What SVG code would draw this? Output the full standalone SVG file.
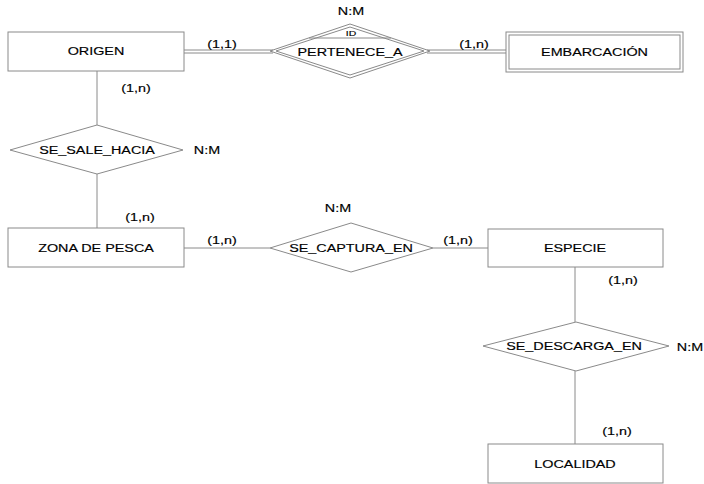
<svg xmlns="http://www.w3.org/2000/svg" width="704" height="484" viewBox="0 0 704 484">
<style>
.box{fill:#fff;stroke:#8a8a8a;stroke-width:1}
.ln{stroke:#8a8a8a;stroke-width:1;fill:none}
.t{font-family:"Liberation Sans",Arial,sans-serif;font-size:11.5px;fill:#000;stroke:#000;stroke-width:0.15;text-anchor:middle}
.s{font-size:8px}
</style>
<rect width="704" height="484" fill="#fff"/>
<g id="connectors">
<line class="ln" x1="184" y1="50" x2="273" y2="50"/>
<line class="ln" x1="184" y1="53" x2="273" y2="53"/>
<line class="ln" x1="427" y1="50" x2="506" y2="50"/>
<line class="ln" x1="427" y1="53" x2="506" y2="53"/>
<line class="ln" x1="97" y1="71" x2="97" y2="125"/>
<line class="ln" x1="97" y1="174" x2="97" y2="228"/>
<line class="ln" x1="184" y1="248" x2="270" y2="248"/>
<line class="ln" x1="433" y1="248" x2="488" y2="248"/>
<line class="ln" x1="575" y1="267" x2="575" y2="322"/>
<line class="ln" x1="575" y1="371" x2="575" y2="444"/>
<text class="t" transform="translate(222,48) scale(1.25,1)">(1,1)</text>
<text class="t" transform="translate(474,48) scale(1.25,1)">(1,n)</text>
<text class="t" transform="translate(136,92) scale(1.25,1)">(1,n)</text>
<text class="t" transform="translate(140,221) scale(1.25,1)">(1,n)</text>
<text class="t" transform="translate(222,244) scale(1.25,1)">(1,n)</text>
<text class="t" transform="translate(458,244) scale(1.25,1)">(1,n)</text>
<text class="t" transform="translate(623,284) scale(1.25,1)">(1,n)</text>
<text class="t" transform="translate(617,435) scale(1.25,1)">(1,n)</text>
</g>
<g id="origen">
<rect class="box" x="8" y="32" width="176" height="39"/>
<text class="t" transform="translate(96,55) scale(1.25,1)">ORIGEN</text>
</g>
<g id="pertenece_a">
<polygon class="ln" fill="#fff" points="270,51 350,24 430,51 350,78"/>
<polygon class="ln" points="276,51 350,27 424,51 350,75"/>
<line class="ln" x1="309" y1="38" x2="391" y2="38"/>
<text class="t s" transform="translate(351,36) scale(1.3,1)">ID</text>
<text class="t" transform="translate(350,56) scale(1.25,1)">PERTENECE_A</text>
<text class="t" transform="translate(351,15) scale(1.25,1)">N:M</text>
</g>
<g id="embarcacion">
<rect class="box" x="506" y="32" width="177" height="40"/>
<rect class="box" x="509" y="35" width="171" height="34"/>
<text class="t" transform="translate(594.5,56) scale(1.25,1)">EMBARCACIÓN</text>
</g>
<g id="se_sale_hacia">
<polygon class="box" points="10,150 97,125 183,150 97,174"/>
<text class="t" transform="translate(97,154) scale(1.25,1)">SE_SALE_HACIA</text>
<text class="t" transform="translate(207,154) scale(1.25,1)">N:M</text>
</g>
<g id="zona_de_pesca">
<rect class="box" x="8" y="228" width="176" height="39"/>
<text class="t" transform="translate(96,252) scale(1.25,1)">ZONA DE PESCA</text>
</g>
<g id="se_captura_en">
<polygon class="box" points="270,248 351,223 433,248 351,272"/>
<text class="t" transform="translate(351,252) scale(1.25,1)">SE_CAPTURA_EN</text>
<text class="t" transform="translate(338,212) scale(1.25,1)">N:M</text>
</g>
<g id="especie">
<rect class="box" x="488" y="229" width="175" height="38"/>
<text class="t" transform="translate(575,252) scale(1.25,1)">ESPECIE</text>
</g>
<g id="se_descarga_en">
<polygon class="box" points="483,346 576,322 669,346 576,371"/>
<text class="t" transform="translate(574,350) scale(1.25,1)">SE_DESCARGA_EN</text>
<text class="t" transform="translate(690,351) scale(1.25,1)">N:M</text>
</g>
<g id="localidad">
<rect class="box" x="488" y="444" width="175" height="39"/>
<text class="t" transform="translate(575,468) scale(1.25,1)">LOCALIDAD</text>
</g>
</svg>
